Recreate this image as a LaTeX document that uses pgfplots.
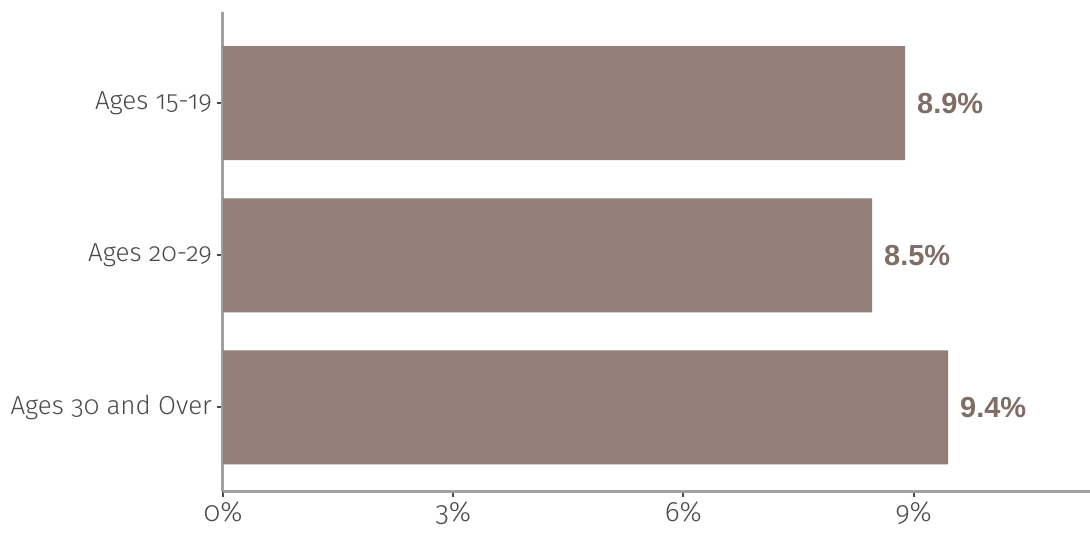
\documentclass[border=0pt]{standalone}
\usepackage{fontspec}
\setmainfont{Fira Sans Light}[Numbers=OldStyle]
\newfontfamily\lab{Liberation Sans}
\usepackage{pgfplots}
\pgfplotsset{compat=1.18}
\definecolor{barc}{HTML}{937F77}
\definecolor{lbl}{HTML}{7F6D66}
\definecolor{axg}{HTML}{A0A0A0}
\definecolor{tk}{HTML}{4A4A4A}
\begin{document}
\begin{tikzpicture}
\useasboundingbox (-111.5pt,-22.5pt) rectangle (433.5pt,245.5pt);
\begin{axis}[at={(0,0)}, anchor=south west, scale only axis,
  width=433.5pt, height=239.5pt,
  xmin=0, xmax=11.3, ymin=-0.55, ymax=2.6,
  xbar, bar width=57pt, bar shift=0pt,
  axis lines*=left,
  axis line style={axg, line width=1.5pt},
  ytick={0,1,2}, yticklabels={Ages 30 and Over, Ages 20-29, Ages 15-19},
  xtick={0,3,6,9}, xticklabels={0\%,3\%,6\%,9\%},
  tick align=outside, major tick length=3pt,
  tick style={tk, line width=1pt},
  yticklabel style={font=\fontsize{13}{15}\selectfont, text=tk, xshift=1pt},
  xticklabel style={font=\fontsize{14}{16}\selectfont, text=tk, yshift=1pt},
  point meta=explicit symbolic,
  nodes near coords={\pgfplotspointmeta\%},
  nodes near coords style={font=\lab\bfseries\fontsize{14.5}{16}\selectfont, text=lbl, anchor=west, xshift=2.5pt},
]
\addplot[draw=none, fill=barc] coordinates {(8.89,2) [8.9] (8.46,1) [8.5] (9.45,0) [9.4]};
\end{axis}
\end{tikzpicture}
\end{document}
